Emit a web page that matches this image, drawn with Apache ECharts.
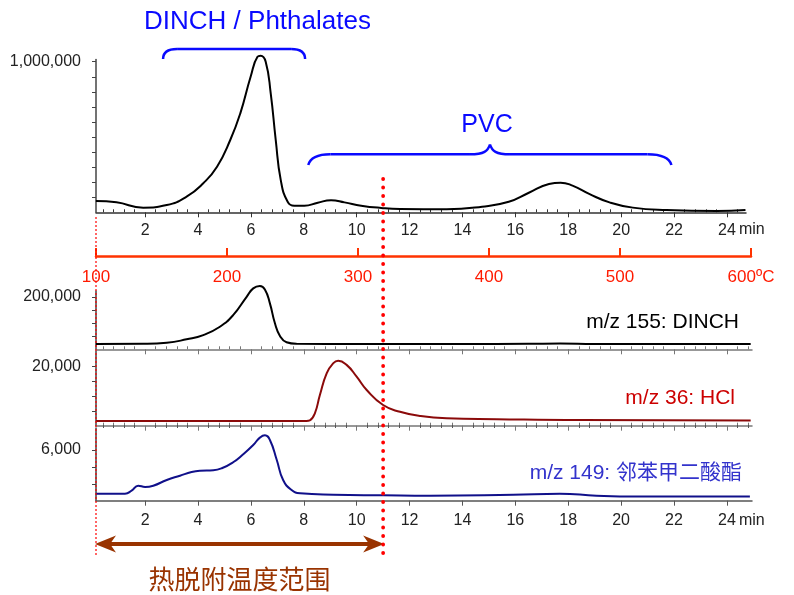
<!DOCTYPE html>
<html><head><meta charset="utf-8">
<script src="https://cdn.jsdelivr.net/npm/echarts@6/dist/echarts.min.js"></script>
<style>html,body{margin:0;padding:0;background:#fff}#c{width:794px;height:595px}</style>
</head><body><div id="c"></div>
<script>
// ---- data (time in min, intensity) ----
const tTIC = [0.14,0.92,1.93,2.82,3.57,4.2,4.72,5.22,5.6,5.99,6.25,6.37,6.56,6.75,6.94,7.13,7.39,7.64,8.02,8.53,9.03,9.54,10.17,10.93,11.64,13.4,14.74,15.75,16.51,17.27,17.71,18.16,18.79,19.56,20.44,21.71,23.61,24.7];
const vTIC = [75000,66000,31000,48000,104000,193000,303000,480000,657000,900000,1033000,1040000,1000000,790000,480000,214000,70000,44000,44000,64000,80000,66000,44000,29000,22000,20000,37000,70000,130000,188000,197000,177000,122000,66000,31000,15000,9000,15000];

const tDINCH = [0.14,1.94,2.82,3.57,4.2,4.83,5.33,5.84,6.09,6.34,6.53,6.72,6.91,7.1,7.35,7.73,10,14,16.5,17.7,19,22,24.9];
const vDINCH = [20000,21000,25000,38000,54000,86000,130000,200000,232000,241000,228000,175000,99000,51000,27000,21000,20000,20000,21000,22000,20000,20000,20000];

const tHCl = [0.14,4,8.1,8.23,8.42,8.61,8.87,9.12,9.3,9.62,10.0,10.38,11.0,11.64,12.39,13.4,15.3,18.47,24.9];
const vHCl = [1600,1600,1600,1800,4200,10400,17800,21200,22000,20600,16600,12100,7000,4700,3300,2500,2200,1900,1800];

const tPh = [0.14,1.24,1.49,1.74,2.0,2.31,2.82,3.32,3.76,4.08,4.58,4.9,5.33,5.71,6.09,6.34,6.53,6.72,6.98,7.22,7.54,7.86,9.12,11.0,12.77,15.92,17.68,19.07,20.59,24.87];
const vPh = [3414,3414,3592,3888,3811,3888,4225,4480,4700,4776,4800,4918,5273,5747,6297,6730,6872,6593,5409,4225,3633,3438,3355,3320,3296,3355,3414,3300,3250,3250];

const timeTicks = [2,4,6,8,10,12,14,16,18,20,22,24];
const tempTicks = [100,200,300,400,500,600];
const ticksTIC = [100000,200000,300000,400000,500000,600000,700000,800000,900000,1000000];
const labTIC = [1000000];
const ticksDINCH = [50000,100000,150000,200000];
const labDINCH = [200000];
const ticksHCl = [5000,10000,15000,20000];
const labHCl = [20000];
const ticksPh = [4000,5000,6000];
const labPh = [6000];

const seriesLabels = ['m/z 155: DINCH','m/z 36: HCl','m/z 149: 邻苯甲二酸酯'];
const groupLabels = ['DINCH / Phthalates','PVC'];
const rangeLabel = '热脱附温度范围';

// ---- helpers ----
const FONT = 'Liberation Sans, Arial, Noto Sans CJK SC, sans-serif';
const minorTicks = [];
for (let k = 1; k <= 63; k++) { const v = +(k*0.4).toFixed(2); if (Math.abs(v/2 - Math.round(v/2)) > 1e-6) minorTicks.push(v); }
const T0 = 0.144, T1top = 24.72, T1 = 24.95;

function xMajor(grid, max, showLabel, lineColor, margin) {
  return { type:'value', gridIndex:grid, min:T0, max:max,
    axisLine:{show:true, onZero:false, lineStyle:{color:lineColor, width:1.5}},
    axisTick:{show:true, length:5, customValues:timeTicks, lineStyle:{color:lineColor}},
    axisLabel:{show:showLabel, customValues:timeTicks, margin:margin||10, fontSize:16, color:'#222', fontFamily:FONT},
    splitLine:{show:false} };
}
function xMinor(grid, max, lineColor) {
  return { type:'value', gridIndex:grid, min:T0, max:max,
    axisLine:{show:false},
    axisTick:{show:true, length:3, customValues:minorTicks.filter(v=>v<max), lineStyle:{color:lineColor}},
    axisLabel:{show:false}, splitLine:{show:false} };
}
function yAx(grid, min, max, ticks, labs) {
  return { type:'value', gridIndex:grid, min:min, max:max,
    axisLine:{show:true, lineStyle:{color:'#444', width:1.5}},
    axisTick:{show:true, length:4, customValues:ticks, lineStyle:{color:'#444'}},
    axisLabel:{show:true, customValues:labs, margin:15, fontSize:16, color:'#222', fontFamily:FONT,
      formatter:v=>Number(v).toLocaleString('en-US')},
    splitLine:{show:false} };
}
const pairs = (t, v) => t.map((x, i) => [x, v[i]]);
function line(xi, yi, t, v, color) {
  return { type:'line', xAxisIndex:xi, yAxisIndex:yi, data:pairs(t, v), showSymbol:false, symbol:'none',
    smooth:0.5, clip:false, lineStyle:{color:color, width:2}, silent:true };
}

const chart = echarts.init(document.getElementById('c'), null, {renderer:'canvas'});
const option = {
  animation:false,
  backgroundColor:'#fff',
  grid:[
    {left:96, top:59.5, width:650, height:152.8},
    {left:96, top:255, width:655, height:1},
    {left:96, top:291, width:656, height:58.3},
    {left:96, top:351, width:656, height:74.7},
    {left:96, top:428, width:656, height:72.7}
  ],
  xAxis:[
    xMajor(0, T1top, true, '#333', 10), xMinor(0, T1top, '#333'),
    { type:'value', gridIndex:1, min:100, max:600, interval:100,
      axisLine:{show:true, lineStyle:{color:'#ff3300', width:2.5}},
      axisTick:{show:true, inside:true, length:8, lineStyle:{color:'#ff3300', width:2}},
      axisLabel:{margin:13, fontSize:17, color:'#ff1a00', fontFamily:FONT, formatter:v=> v===600 ? '600ºC' : String(v)},
      splitLine:{show:false} },
    xMajor(2, T1, false, '#777'), xMinor(2, T1, '#777'),
    xMajor(3, T1, false, '#777'), xMinor(3, T1, '#777'),
    xMajor(4, T1, true, '#555', 12), xMinor(4, T1, '#555')
  ],
  yAxis:[
    yAx(0, 0, 1014600, ticksTIC, labTIC),
    {type:'value', gridIndex:1, show:false, min:0, max:1},
    yAx(2, 0, 222000, ticksDINCH, labDINCH),
    yAx(3, 0, 25300, ticksHCl, labHCl),
    yAx(4, 3000, 7300, ticksPh, labPh)
  ],
  series:[
    line(0, 0, tTIC, vTIC, '#000'),
    line(3, 2, tDINCH, vDINCH, '#000'),
    line(5, 3, tHCl, vHCl, '#8b0a0a'),
    line(7, 4, tPh, vPh, '#10108a')
  ]
};
chart.setOption(option);

// ---- annotations positioned through the axes ----
const px = (axis, v) => chart.convertToPixel({xAxisIndex:axis}, v);
const xStart = px(2, 100);      // 100 C on temperature axis
const xEnd = px(0, 11);         // 11 min marker
const b1 = px(0, 2.68), b2 = px(0, 8.05);
const p1 = px(0, 8.17), pc = px(0, 15.04), p2 = px(0, 21.9);
const blue = '#0a0aff', brown = '#993300';
const bs = {stroke:blue, lineWidth:2.5, fill:null};
const g = [];
g.push({type:'line', shape:{x1:xStart, y1:217, x2:xStart, y2:556}, style:{stroke:'#ff0000', lineWidth:1.2, lineDash:[2,2]}, z:50});
g.push({type:'line', shape:{x1:xEnd, y1:179, x2:xEnd, y2:560}, style:{stroke:'#ff0000', lineWidth:3.8, lineDash:[0.1,8.4], lineCap:'round'}, z:50});
// arrow
g.push({type:'line', shape:{x1:xStart+12, y1:544, x2:xEnd-12, y2:544}, style:{stroke:brown, lineWidth:4}, z:40});
g.push({type:'polygon', shape:{points:[[xStart-1,544],[xStart+20,535.5],[xStart+14,544],[xStart+20,552.5]]}, style:{fill:brown}, z:40});
g.push({type:'polygon', shape:{points:[[xEnd+1,544],[xEnd-20,535.5],[xEnd-14,544],[xEnd-20,552.5]]}, style:{fill:brown}, z:40});
g.push({type:'text', x:(xStart+xEnd)/2, y:579, style:{text:rangeLabel, fill:brown, font:'26px Noto Sans CJK SC, sans-serif', align:'center', verticalAlign:'middle'}});
// DINCH brace
g.push({type:'bezierCurve', shape:{x1:b1, y1:59, cpx1:b1, cpy1:51.5, cpx2:b1+5, cpy2:49, x2:b1+14, y2:49}, style:bs});
g.push({type:'line', shape:{x1:b1+14, y1:49, x2:b2-14, y2:49}, style:bs});
g.push({type:'bezierCurve', shape:{x1:b2-14, y1:49, cpx1:b2-5, cpy1:49, cpx2:b2, cpy2:51.5, x2:b2, y2:59}, style:bs});
// PVC brace
g.push({type:'bezierCurve', shape:{x1:p1, y1:165, cpx1:p1+2, cpy1:158, cpx2:p1+9, cpy2:154.3, x2:p1+22, y2:154.3}, style:bs});
g.push({type:'line', shape:{x1:p1+22, y1:154.3, x2:pc-20, y2:154.3}, style:bs});
g.push({type:'bezierCurve', shape:{x1:pc-20, y1:154.3, cpx1:pc-6, cpy1:154.3, cpx2:pc-2, cpy2:151, x2:pc, y2:144.5}, style:bs});
g.push({type:'bezierCurve', shape:{x1:pc, y1:144.5, cpx1:pc+2, cpy1:151, cpx2:pc+6, cpy2:154.3, x2:pc+20, y2:154.3}, style:bs});
g.push({type:'line', shape:{x1:pc+20, y1:154.3, x2:p2-24, y2:154.3}, style:bs});
g.push({type:'bezierCurve', shape:{x1:p2-24, y1:154.3, cpx1:p2-10, cpy1:154.3, cpx2:p2-2, cpy2:158, x2:p2, y2:165}, style:bs});
g.push({type:'text', x:px(0, 6.25), y:22, style:{text:groupLabels[0], fill:blue, font:'26px '+FONT, align:'center', verticalAlign:'middle'}});
g.push({type:'text', x:px(0, 14.93), y:125, style:{text:groupLabels[1], fill:blue, font:'25px '+FONT, align:'center', verticalAlign:'middle'}});
// trace labels
g.push({type:'text', x:739, y:322, style:{text:seriesLabels[0], fill:'#000', font:'21px '+FONT, align:'right', verticalAlign:'middle'}});
g.push({type:'text', x:735, y:398, style:{text:seriesLabels[1], fill:'#cc0000', font:'21px '+FONT, align:'right', verticalAlign:'middle'}});
g.push({type:'text', x:742, y:473, style:{text:seriesLabels[2], fill:'#3333cc', font:'21px '+FONT, align:'right', verticalAlign:'middle'}});
// "min" unit labels
g.push({type:'text', x:px(0, 24)+12, y:230, style:{text:'min', fill:'#222', font:'16px '+FONT, align:'left', verticalAlign:'middle'}});
g.push({type:'text', x:px(7, 24)+12, y:521, style:{text:'min', fill:'#222', font:'16px '+FONT, align:'left', verticalAlign:'middle'}});
chart.setOption({graphic:{elements:g}});
</script>
</body></html>
